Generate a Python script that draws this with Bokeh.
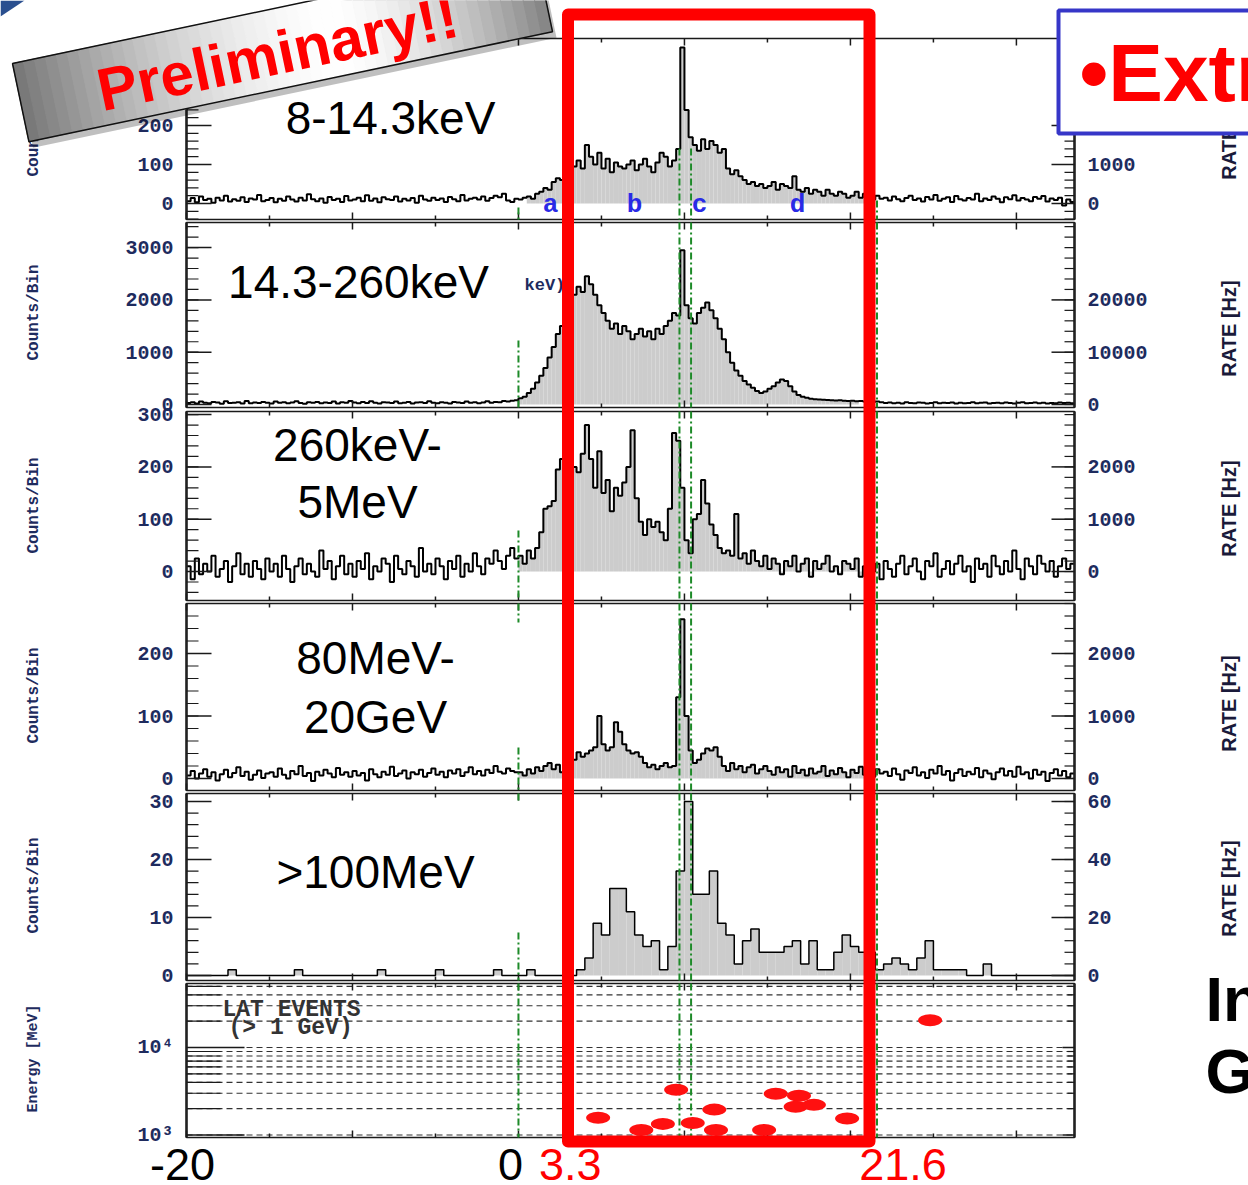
import math
from bokeh.plotting import figure
from bokeh.models import Range1d, LogScale
from bokeh.core.properties import value
from bokeh.embed import file_html
from bokeh.resources import INLINE

# ---------------- data ----------------
BIN_START = -20.0     # s, start of the first bin
BIN_W = 0.25          # s, bin width of panels 1-4
BIN_W_HE = 0.5        # s, bin width of the >100 MeV panel

counts_8_14keV = [
    6, 14, 3, 18, 9, 12, 2, 15, 8, 20, 5, 11, 7, 16, 4, 13, 10, 22, 6, 9,
    14, 3, 12, 7, 18, 10, 5, 15, 8, 24, 11, 6, 13, 2, 17, 9, 12, 4, 19, 8,
    10, 15, 6, 21, 7, 13, 3, 16, 11, 9, 18, 5, 12, 8, 14, 2, 20, 10, 7, 15,
    9, 13, 4, 17, 11, 6, 22, 8, 12, 15, 10, 18, 7, 14, 20, 16, 25, 8, 4, 12,
    10, 15, 18, 12, 25, 30, 40, 35, 55, 65,
    60, 80, 70, 95, 110, 90, 150, 120, 100, 130,
    90, 115, 80, 105, 95, 90, 100, 110, 85, 100,
    115, 95, 80, 105, 130, 120, 95, 110, 140, 400,
    240, 170, 150, 135, 165, 140, 160, 150, 130, 140,
    90, 75, 85, 70, 60, 50, 55, 45, 50, 40,
    45, 55, 35, 50, 45, 40, 70, 35, 30, 40,
    25, 35, 30, 20, 35, 25, 20, 30, 25, 15,
    20, 30, 15, 25, 18, 10, 20, 12,
    15, 8, 18, 11, 6, 14, 20, 9, 13, 5, 17, 10, 22, 7, 12, 16, 4, 19, 11, 8,
    14, 10, 25, 6, 13, 9, 18, 12, 3, 16, 11, 21, 8, 14, 10, 6, 17, 12, 19, 5,
    13, 9, 15, -5, 10, 4,
]

counts_14_260keV = [
    30, 45, 20, 55, 35, 25, 50, 40, 15, 60, 30, 35, 45, 20, 65, 25, 40, 30, 50, 35,
    20, 55, 35, 45, 25, 40, 60, 30, 15, 45, 35, 50, 25, 40, 30, 55, 20, 45, 35, 65,
    40, 25, 50, 30, 60, 35, 20, 45, 40, 30, 55, 25, 35, 50, 20, 40, 45, 30, 60, 35,
    25, 45, 35, 20, 50, 40, 30, 55, 35, 45, 25, 40, 60, 35, 50, 45, 65, 55, 70, 80,
    120, 150, 220, 300, 420, 550, 700, 900, 1100, 1350,
    1500, 1700, 1900, 2100, 2250, 2150, 2450, 2300, 2100, 1900,
    1750, 1600, 1450, 1550, 1350, 1500, 1400, 1250, 1350, 1450,
    1300, 1400, 1250, 1450, 1350, 1500, 1600, 1750, 1700, 2950,
    1900, 1650, 1550, 1750, 1850, 1950, 1800, 1650, 1450, 1250,
    1000, 800, 650, 550, 450, 380, 320, 260, 220, 250,
    300, 350, 420, 480, 450, 350, 250, 180, 150, 130,
    110, 100, 95, 90, 85, 80, 75, 80, 70, 65,
    70, 60, 65, 55, 60, 50, 55, 45,
    30, 40, 25, 35, 20, 45, 30, 25, 40, 35, 20, 30, 45, 25, 35, 30, 40, 20, 35, 25,
    30, 45, 25, 35, 40, 20, 30, 35, 25, 40, 30, 20, 35, 45, 25, 30, 40, 25, 35, 20,
    30, 25, 40, 30, 35, 25,
]

counts_260keV_5MeV = [
    10, -15, 25, -5, 15, 0, 30, -10, 5, 20, -20, 10, 35, -5, 15, -10, 20, 5, -15, 25,
    0, 15, -10, 30, 5, -20, 10, 25, -5, 15, 0, -10, 40, 5, 20, -15, 10, 30, -5, 15,
    -10, 20, 5, 35, -15, 10, 0, 25, 15, -20, 30, 5, -5, 20, 10, -10, 45, 0, 15, -5,
    25, 10, -15, 20, 5, 30, -10, 15, 0, 35, 10, -5, 25, 15, 40, 20, 5, 30, 45, 25,
    30, 15, 40, 25, 45, 75, 120, 125, 135, 195,
    215, 185, 230, 200, 190, 225, 280, 215, 160, 230,
    150, 175, 115, 160, 145, 170, 200, 270, 140, 95,
    70, 100, 85, 95, 75, 60, 120, 265, 250, 160,
    60, 35, 100, 110, 175, 130, 90, 70, 45, 35,
    40, 30, 110, 25, 35, 15, 40, 20, 10, 30,
    5, 25, 15, -5, 20, 10, 30, 0, 15, 25,
    -10, 20, 5, 15, 30, 0, 10, -5, 20, 15,
    5, 25, -10, 10, 20, 0, 15, -15,
    20, 5, -10, 15, 30, -5, 10, 25, 0, -15, 20, 10, 35, -10, 5, 20, -5, 15, 30, 0,
    10, -20, 25, 5, 15, -10, 30, 10, -5, 20, 0, 40, 5, -15, 25, 10, -5, 30, 15, 0,
    20, -10, 10, 25, 5, 15,
]

counts_80MeV_20GeV = [
    5, 12, 0, 8, 15, 3, 10, -3, 7, 14, 2, 9, 18, 4, 11, -2, 6, 13, 1, 8,
    10, 3, 16, 6, 0, 12, 7, 20, 4, 9, -4, 11, 5, 14, 8, 2, 17, 6, 10, 3,
    12, 5, 9, -3, 15, 7, 2, 11, 6, 19, 4, 8, 13, 0, 10, 7, 14, 3, 9, 16,
    6, 11, 2, 13, 8, 15, 4, 10, 18, 7, 12, 5, 14, 9, 20, 11, 8, 16, 12, 10,
    10, 5, 15, 8, 18, 12, 20, 25, 15, 22,
    10, 12, 15, 30, 42, 35, 40, 45, 50, 100,
    55, 45, 50, 90, 75, 55, 45, 40, 42, 35,
    25, 18, 22, 15, 20, 25, 18, 20, 130, 255,
    100, 45, 25, 30, 40, 48, 45, 50, 35, 20,
    12, 25, 15, 20, 10, 18, 22, 8, 15, 20,
    12, 6, 18, 10, 15, 3, 20, 9, 14, 5,
    16, 8, 11, 20, 4, 13, 7, 17, 10, 2,
    14, 9, 19, 6, 12, 3, 15, 8,
    11, 4, 16, 7, -2, 13, 9, 18, 5, 10, 1, 14, 8, 20, 6, 12, -3, 9, 15, 4,
    11, 7, 17, 2, 13, 8, -1, 10, 16, 5, 12, 3, 19, 7, 10, 0, 14, 6, 11, -4,
    9, 15, 5, 12, 2, 8,
]

counts_gt100MeV = [
    0, 0, 0, 0, 0, 1, 0, 0, 0, 0, 0, 0, 0, 1, 0, 0, 0, 0, 0, 0,
    0, 0, 0, 1, 0, 0, 0, 0, 0, 0, 1, 0, 0, 0, 0, 0, 0, 1, 0, 0,
    0, 1, 0, 0, 0, 0, 0, 1, 3, 9, 7, 15, 15, 11, 7, 5, 6, 1, 5, 18,
    30, 14, 14, 18, 9, 7, 2, 6, 8, 4, 4, 4, 5, 6, 2, 6, 1, 1, 4, 7,
    5, 4, 4, 1, 2, 3, 2, 1, 3, 6, 1, 1, 1, 1, 0, 0, 2, 0, 0, 0,
    0, 0, 0, 0, 0, 0, 0,
]

lat_time = [4.8, 7.4, 8.7, 9.5, 10.5, 11.8, 11.9, 14.8, 15.5, 16.9, 16.7, 17.8, 19.8, 24.8]
lat_energy = [1570, 1140, 1340, 3290, 1370, 1950, 1140, 1140, 2960, 2810, 2100, 2210, 1540, 20500]

marker_times = [0.0, 9.7, 10.4, 21.6]
band_names = ["8-14.3keV", "14.3-260keV", "260keV-", "5MeV", "80MeV-", "20GeV", ">100MeV"]

left_ticks = {
    "n1": [0, 100, 200],
    "n2": [0, 1000, 2000, 3000],
    "b3": [0, 100, 200, 300],
    "l4": [0, 100, 200],
    "l5": [0, 10, 20, 30],
}
rate_ticks = {
    "n1": [0, 1000, 2000],
    "n2": [0, 10000, 20000],
    "b3": [0, 1000, 2000],
    "l4": [0, 1000, 2000],
    "l5": [0, 20, 40, 60],
}
lat_ticks = [1000, 10000]
lat_tick_labels = ["10\u00b3", "10\u2074"]
lat_minor = [2000, 3000, 4000, 5000, 6000, 7000, 8000, 9000, 20000, 30000, 40000, 50000]
x_tick_labels = ["-20", "0"]
x_tick_values = [-20.0, 0.0]
window_labels = ["3.3", "21.6"]
window_values = [3.3, 21.6]

# ---------------- geometry / style ----------------
W, H = 1248, 1185
XL, XRP = 186, 1074             # frame left / right (px)
T_LO, T_HI = -20.0, 33.5        # time range of the panels (s)
PXS = (XRP - XL) / (T_HI - T_LO)
NAVY = "#1e2b5e"
INK = "#1a1a1a"
MONO = "Liberation Mono"
SANS = "Liberation Sans"
GREEN = "#1d8a28"
DASH = "7 3 2 3"
RED = "#ff0000"


def tx(px):
    return T_LO + (px - XL) / PXS


# (name, frame top px, frame bottom px, value at frame bottom, value at frame top, log, rate factor)
PANELS = [
    ("n1", 38, 219, -41.0, 423.1, False, 10),
    ("n2", 222, 407, -57.4, 3480.0, False, 10),
    ("b3", 411, 600, -55.4, 305.9, False, 10),
    ("l4", 603, 790, -19.2, 280.0, False, 10),
    ("l5", 793, 980, -0.862, 31.38, False, 2),
    ("lat", 983, 1137, 936.4, 53880.0, True, 1),
]

ranges, scales = {}, {}
for name, ft, fb, lo, hi, lg, k in PANELS:
    if lg:
        a, b = math.log10(lo), math.log10(hi)
        v_bot = 10 ** (a + (fb - H) * (b - a) / (fb - ft))
        v_top = 10 ** (a + (fb - 0) * (b - a) / (fb - ft))
        ranges[name] = Range1d(v_bot, v_top)
        scales[name] = LogScale()
    else:
        v_bot = lo + (fb - H) * (hi - lo) / (fb - ft)
        v_top = lo + (fb - 0) * (hi - lo) / (fb - ft)
        ranges[name] = Range1d(v_bot, v_top)
        ranges[name + "_r"] = Range1d(v_bot * k, v_top * k)

p = figure(width=W, height=H, x_range=Range1d(tx(0), tx(W)), y_range=Range1d(H, 0),
           output_backend="svg", toolbar_location=None, title=None, min_border=0,
           x_axis_location=None, y_axis_location=None, outline_line_color=None,
           background_fill_color="white", border_fill_color="white")
p.grid.visible = False
p.extra_y_ranges = ranges
p.extra_y_scales = scales


def text(xs, ys, txt, size, font=SANS, color="black", align="center", baseline="middle",
         style="normal", angle=0.0, rng="default", x_offset=0):
    p.text(x=xs, y=ys, text=txt, text_font=value(font), text_font_size=value(size),
           text_font_style=style, text_color=color, text_align=align, text_baseline=baseline,
           angle=angle, y_range_name=rng, x_offset=x_offset)


def draw_hist(counts, w, lo_t, hi_t, lw, rng):
    ed = [BIN_START + w * i for i in range(len(counts) + 1)]
    sel = [i for i in range(len(counts)) if ed[i] >= lo_t - 1e-9 and ed[i + 1] <= hi_t + 1e-9]
    p.quad(left=[ed[i] for i in sel], right=[ed[i + 1] for i in sel], bottom=0,
           top=[counts[i] for i in sel], y_range_name=rng, fill_color="#cccccc", line_color=None)
    p.step(x=ed, y=list(counts) + [counts[-1]], mode="after", y_range_name=rng,
           line_color="black", line_width=lw)


def yticks(rng, ticks, minor, side, tin, mtin, labels=None):
    x0 = T_LO if side == "left" else T_HI
    d = 1 if side == "left" else -1
    p.segment(x0=[x0] * len(minor), y0=minor, x1=[x0 + d * mtin / PXS] * len(minor), y1=minor,
              y_range_name=rng, line_color=INK, line_width=1.2)
    p.segment(x0=[x0] * len(ticks), y0=ticks, x1=[x0 + d * tin / PXS] * len(ticks), y1=ticks,
              y_range_name=rng, line_color=INK, line_width=1.5)
    if labels:
        text([x0] * len(ticks), ticks, labels, "20px", font=MONO, color=NAVY,
             align="right" if side == "left" else "left", style="bold",
             rng=rng, x_offset=-13 * d)


# ---- histograms ----
draw_hist(counts_8_14keV, BIN_W, 0.5, 21.5, 2, "n1")
draw_hist(counts_14_260keV, BIN_W, 0.0, 20.5, 2, "n2")
draw_hist(counts_260keV_5MeV, BIN_W, 0.0, 21.5, 2, "b3")
draw_hist(counts_80MeV_20GeV, BIN_W, 0.0, 21.5, 2, "l4")
draw_hist(counts_gt100MeV, BIN_W_HE, -20.0, 33.5, 1.5, "l5")

# ---- LAT panel dashed energy grid ----
grid_e = lat_ticks + lat_minor
p.segment(x0=[T_LO] * len(grid_e), y0=grid_e, x1=[T_HI] * len(grid_e), y1=grid_e,
          y_range_name="lat", line_color="#333333", line_width=1.2, line_dash="6 4")

# ---- frames, time ticks, value ticks ----
XT = [-20, -10, 0, 10, 20, 30, -15, -5, 5, 15, 25]
XT_LEN = [7, 7, 7, 7, 7, 7, 4, 4, 4, 4, 4]
for name, ft, fb, lo, hi, lg, k in PANELS:
    p.quad(left=T_LO, right=T_HI, top=ft, bottom=fb, fill_color=None, line_color=INK, line_width=1.5)
    p.segment(x0=[T_LO, T_HI], y0=[ft, ft], x1=[T_LO, T_HI], y1=[fb, fb], line_color="#222222", line_width=2.5)
    p.segment(x0=XT, y0=[ft] * len(XT), x1=XT, y1=[ft + L for L in XT_LEN], line_color=INK, line_width=1.5)
    p.segment(x0=XT, y0=[fb] * len(XT), x1=XT, y1=[fb - L for L in XT_LEN], line_color=INK, line_width=1.5)

minor_left = {
    "n1": list(range(-40, 421, 20)),
    "n2": list(range(0, 3401, 200)),
    "b3": list(range(-40, 301, 20)),
    "l4": list(range(0, 281, 20)),
    "l5": list(range(0, 31, 2)),
}
minor_right = {
    "n1": list(range(-400, 4201, 200)),
    "n2": list(range(0, 34001, 2000)),
    "b3": list(range(-400, 3001, 200)),
    "l4": list(range(0, 2801, 200)),
    "l5": list(range(0, 61, 4)),
}
for name in ["n1", "n2", "b3", "l4", "l5"]:
    yticks(name, left_ticks[name], minor_left[name], "left", 25, 12,
           [str(v) for v in left_ticks[name]])
    yticks(name + "_r", rate_ticks[name], minor_right[name], "right", 23, 10,
           [str(v) for v in rate_ticks[name]])
yticks("lat", lat_ticks, lat_minor, "left", 58, 34, lat_tick_labels)
yticks("lat", lat_ticks, lat_minor, "right", 12, 7)

# axis titles
ylab_x = tx(33)
for cy in [128, 312, 505, 695, 885]:
    text([ylab_x], [cy], ["Counts/Bin"], "16px", font=MONO, color=NAVY, style="bold", angle=math.pi / 2)
text([ylab_x], [1058], ["Energy [MeV]"], "15px", font=MONO, color=NAVY, style="bold", angle=math.pi / 2)
for cy in [131, 328, 508, 703, 888]:
    text([tx(1228)], [cy], ["RATE [Hz]"], "20px", color="#1a1a3a", style="bold", angle=math.pi / 2)

# ---- dash-dot time markers (partly hidden in the reference) ----
marker_spans = [
    [[(207, 219)], [(148, 219)], [(148, 219)], [(200, 219)]],
    [[(340, 407)], [(222, 407)], [(222, 407)], [(222, 407)]],
    [[(530, 600)], [(411, 600)], [(411, 600)], [(411, 600)]],
    [[(603, 622), (747, 790)], [(603, 790)], [(603, 790)], [(603, 790)]],
    [[(793, 803), (932, 980)], [(793, 980)], [(793, 980)], [(793, 980)]],
    [[(983, 1137)], [(983, 1137)], [(983, 1137)], [(983, 1137)]],
]
mx, my0, my1 = [], [], []
for spans in marker_spans:
    for kk, t in enumerate(marker_times):
        for (a, b) in spans[kk]:
            mx.append(t)
            my0.append(a)
            my1.append(b)
p.segment(x0=mx, y0=my0, x1=mx, y1=my1, line_color=GREEN, line_width=2, line_dash=DASH)

# ---- LAT events ----
p.ellipse(x=lat_time, y=lat_energy, width=24, height=12, width_units="screen",
          height_units="screen", y_range_name="lat", fill_color="#ff1010", line_color=None)
text([tx(222)], [1009], ["LAT EVENTS"], "23px", font=MONO, color="#333333", align="left", style="bold")
text([tx(228)], [1027], ["(> 1 GeV)"], "23px", font=MONO, color="#333333", align="left", style="bold")

# ---- band names and small leftover labels ----
text([tx(390)], [117], [band_names[0]], "46px")
text([tx(358)], [281], [band_names[1]], "46px")
text([tx(357), tx(357)], [444, 501], band_names[2:4], "46px")
text([tx(375), tx(375)], [657, 716], band_names[4:6], "46px")
text([tx(375)], [871], [band_names[6]], "46px")
text([tx(550), tx(634), tx(699), tx(797)], [204] * 4, ["a", "b", "c", "d"], "26px",
     font=MONO, color="#2a2ae6", style="bold")
text([tx(524)], [285], ["keV)"], "17px", font=MONO, color=NAVY, align="left", style="bold")

# ---- red highlight rectangle ----
p.quad(left=tx(567.5), right=tx(869), top=14, bottom=1141, fill_color=None,
       line_color=RED, line_width=12, line_join="round")

# ---- slide decoration in the top-left corner ----
p.patch(x=[tx(0), tx(24), tx(0)], y=[0, 0, 16], fill_color="#2a4f8f", line_color=None)

# ---- "Preliminary!!" banner ----
th = math.atan2(110, 523)
ux, uy = math.cos(th), -math.sin(th)
wx, wy = math.sin(th), math.cos(th)
TLx, TLy, BL_LEN, BL_W = 12.0, 63.0, 535.0, 80.0


def quad_pts(s0, s1, dx=0.0, dy=0.0):
    pts = [(TLx + s0 * ux, TLy + s0 * uy), (TLx + s1 * ux, TLy + s1 * uy),
           (TLx + s1 * ux + BL_W * wx, TLy + s1 * uy + BL_W * wy),
           (TLx + s0 * ux + BL_W * wx, TLy + s0 * uy + BL_W * wy)]
    return [tx(x + dx) for x, _ in pts], [y + dy for _, y in pts]


sx, sy = quad_pts(0, BL_LEN, 4, 6)
p.patch(x=sx, y=sy, fill_color="black", fill_alpha=0.25, line_color=None)
NS = 48
bxs, bys, bcols = [], [], []
for kk in range(NS):
    s0, s1 = BL_LEN * kk / NS, BL_LEN * (kk + 1) / NS
    sm = (kk + 0.5) / NS
    if sm < 0.6:
        g = 255 - (255 - 118) * ((0.6 - sm) / 0.6) ** 1.6
    else:
        g = 255 - (255 - 130) * ((sm - 0.6) / 0.4) ** 1.6
    qx, qy = quad_pts(s0, s1)
    bxs.append(qx)
    bys.append(qy)
    bcols.append("#%02x%02x%02x" % (int(g), int(g), int(g)))
p.patches(xs=bxs, ys=bys, fill_color=bcols, line_color=bcols, line_width=1)
ox, oy = quad_pts(0, BL_LEN)
p.patch(x=ox + [ox[0]], y=oy + [oy[0]], fill_alpha=0, line_color="#111111", line_width=1.5)
text([tx(277)], [53], ["Preliminary!!"], "60px", color=RED, style="bold", angle=th)

# ---- blue framed box (top right) ----
p.quad(left=tx(1058), right=tx(1262), top=10, bottom=133, fill_color="white",
       line_color="#3636c8", line_width=4)
text([tx(1079)], [72], ["\u2022Extr"], "82px", color=RED, align="left", style="bold")
text([tx(1205), tx(1205)], [998, 1070], ["In", "G"], "63px", align="left", style="bold")

# ---- time labels under the plot ----
text([x_tick_values[0]], [1164], [x_tick_labels[0]], "45px", x_offset=-4)
text([x_tick_values[1]], [1164], [x_tick_labels[1]], "45px", x_offset=-8)
text([window_values[0]], [1164], [window_labels[0]], "45px", color=RED, x_offset=-3)
text([window_values[1]], [1164], [window_labels[1]], "45px", color=RED, x_offset=26)

open("out.html", "w").write(file_html(p, INLINE, "GRB light curves"))
